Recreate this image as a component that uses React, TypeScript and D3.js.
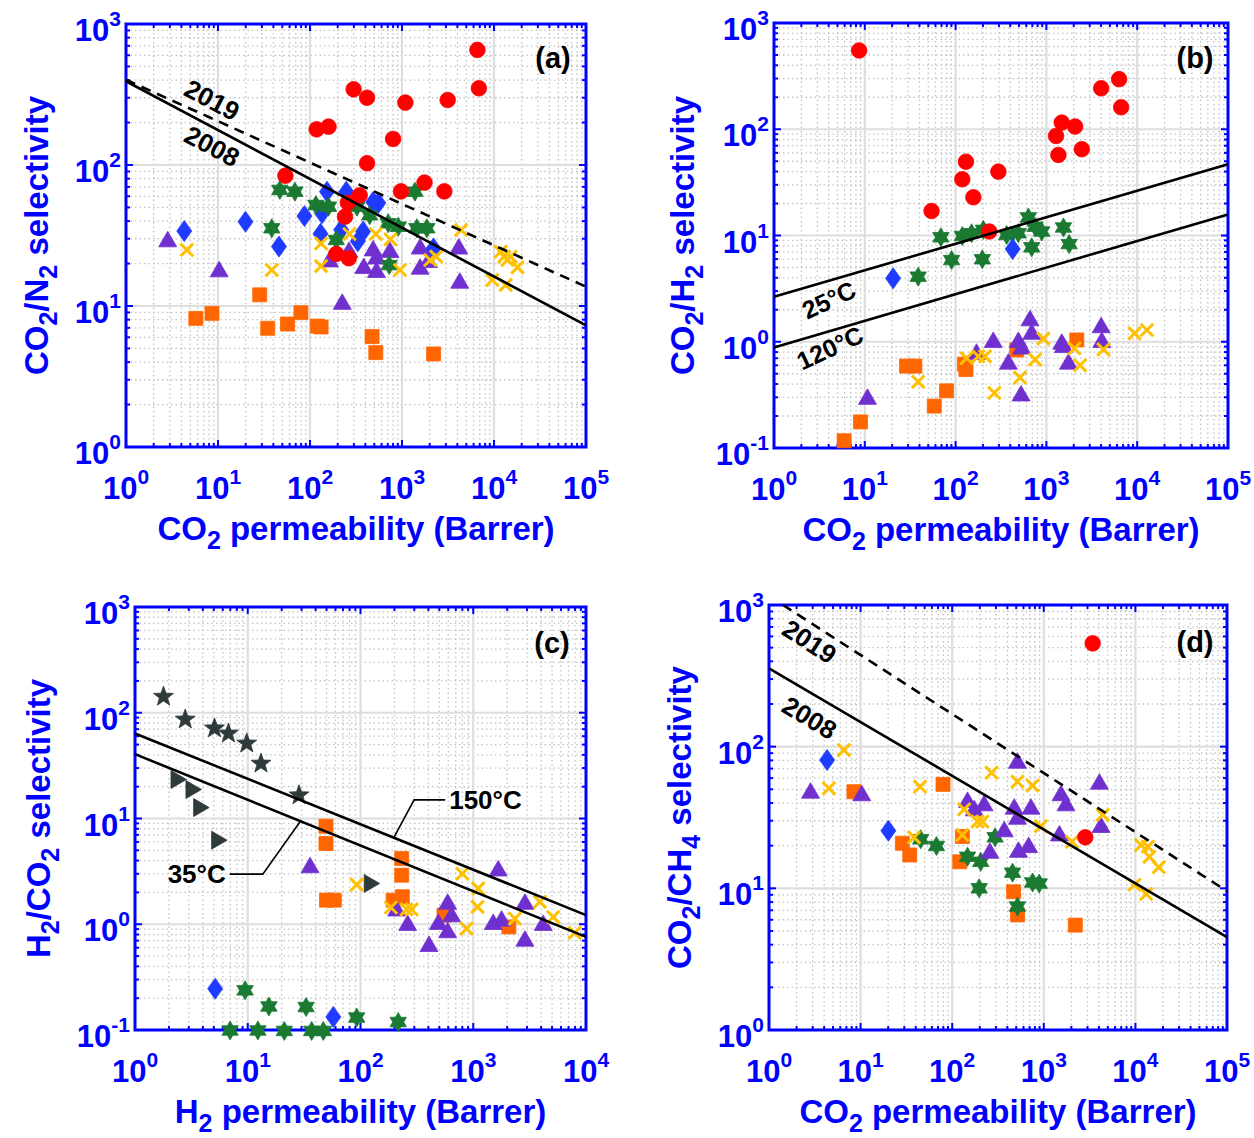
import React from 'react';
import * as d3 from 'd3';

type Pt = [number, number];

// ---------- Panel (a): CO2/N2 ----------
const aCircles: Pt[] = [[6600,655],[6850,350],[298,344],[417,300],[1088,277],[3135,289],[118,179],[159,187],[800,153],[417,103],[54,84],[1757,75],[975,65],[2885,65],[347,61],[258,54],[240,43],[193,23.4],[264,21.8]];
const aDiamonds: Pt[] = [[4.3,34],[19.9,39.6],[46,26.4],[87,43.4],[135,45.4],[153,64.7],[248,64.7],[130,32.5],[218,34.7],[378,33.7],[486,54.7],[553,53.8],[2200,25.6],[331,28.8]];
const aHexagrams: Pt[] = [[47,66.6],[68.5,64.7],[38.4,35.6],[116,52],[159,50.6],[193,29.4],[324,50.6],[708,38.6],[912,36.5],[1450,35.6],[1862,35.6],[1383,64.7],[726,19.5],[445,44]];
const aTriangles: Pt[] = [[2.84,29.7],[10.3,18.2],[224,10.7],[163,21.4],[265,25],[384,19.2],[528,18],[528,22.4],[739,25],[1574,26.4],[1574,19],[4140,26.4],[4245,15.1],[486,25.6],[1941,21.2]];
const aCrosses: Pt[] = [[4.58,25],[38.4,18],[132,27.8],[132,19.2],[269,32.4],[519,32.4],[751,29.7],[951,18],[2026,21.2],[2357,22.4],[4390,34.6],[11830,24.3],[14000,21.2],[15200,22.4],[18000,18.8],[9570,15.3],[13400,14.1],[12900,22.4]];
const aSquares: Pt[] = [[5.74,8.17],[8.6,8.87],[28.4,12],[34.7,6.95],[56.9,7.45],[79.7,8.97],[120,7.2],[132,7.1],[473,6.07],[519,4.67],[2204,4.57]];
const aBound2008: Pt[] = [[1,392.6],[1e5,7.29]];
const aBound2019: Pt[] = [[1,402],[1e5,13.7]];

// ---------- Panel (b): CO2/H2 ----------
const bCircles: Pt[] = [[8.66,551],[4010,243],[6320,296],[6660,161],[1476,115.5],[2070,106],[1278,86.5],[1355,57.3],[2454,64.9],[130,49.5],[118.5,33.8],[157,22.9],[296,39.9],[54.3,17],[235,10.9]];
const bHexagrams: Pt[] = [[68.9,9.62],[118.5,9.88],[150,10.5],[202,11.3],[90.4,5.87],[197,5.97],[38.7,4.1],[365,10.1],[491,10.5],[633,14.8],[750,12.1],[889,10.9],[1541,11.9],[1780,8.3],[689,7.74]];
const bDiamonds: Pt[] = [[20.5,3.95],[425,7.47]];
const bTriangles: Pt[] = [[10.7,0.303],[660,1.66],[689,1.24],[4010,1.43],[4075,1.04],[260,1.04],[491,1.04],[535,0.9],[381,0.65],[170,0.805],[1476,1.0],[1541,0.93],[1750,0.65],[526,0.326]];
const bCrosses: Pt[] = [[38.7,0.42],[132,0.7],[178,0.73],[211,0.73],[267,0.33],[512,0.46],[750,0.68],[926,1.07],[2036,0.865],[2351,0.6],[4253,0.847],[9354,1.2],[12800,1.29]];
const bSquares: Pt[] = [[5.92,0.117],[8.96,0.176],[28.8,0.59],[35.6,0.59],[58.2,0.248],[79.5,0.345],[125,0.616],[130,0.548],[471,0.836],[2161,1.04]];
const bLine25: Pt[] = [[1,2.65],[1e5,46.8]];
const bLine120: Pt[] = [[1,0.885],[1e5,15.8]];

// ---------- Panel (c): H2/CO2 ----------
const cPentagrams: Pt[] = [[1.79,142],[2.79,86.5],[5.07,71.2],[6.74,63.7],[9.8,51.3],[13.1,33.1],[28.5,16.6]];
const cRightTriangles: Pt[] = [[2.43,23.4],[3.3,18.8],[3.86,12.7],[5.57,6.24],[125.6,2.43]];
const cSquares: Pt[] = [[49.4,8.45],[49.4,5.8],[50,1.69],[58.6,1.69],[232,4.18],[232,2.91],[235,1.82],[195,1.69],[550,1.22],[2070,0.944]];
const cTriangles: Pt[] = [[35.7,3.61],[209,1.41],[262,1.03],[405,0.65],[490,1.05],[593,1.63],[643,1.24],[593,0.877],[1666,3.37],[1504,1.05],[1782,1.13],[2873,1.63],[2873,0.73],[4174,1.03]];
const cCrosses: Pt[] = [[92.5,2.37],[186,1.44],[256,1.38],[284,1.38],[800,3.01],[1107,2.18],[1092,1.46],[873,0.91],[2340,1.13],[3900,1.63],[5120,1.17],[7950,0.83]];
const cDiamonds: Pt[] = [[5.14,0.246],[57.4,0.133]];
const cHexagrams: Pt[] = [[9.47,0.237],[15.4,0.167],[32.9,0.165],[92.5,0.131],[216,0.119],[6.97,0.099],[12.3,0.099],[21.1,0.098],[36.9,0.098],[46.8,0.098]];
const cLine150: Pt[] = [[1,63.7],[1e4,1.22]];
const cLine35: Pt[] = [[1,40.6],[1e4,0.759]];

// ---------- Panel (d): CO2/CH4 ----------
const dCircles: Pt[] = [[3415,536],[2838,22.9]];
const dDiamonds: Pt[] = [[4.31,80.5],[20.1,25.5]];
const dTriangles: Pt[] = [[2.84,48.9],[10.3,46.9],[147,42.1],[174,36.7],[223,39.8],[370,26.1],[258,18.4],[516,79.6],[475,37.7],[516,32],[723,37.7],[529,18.7],[683,20.2],[1542,46.9],[1747,39.8],[1480,24.4],[4046,56.6],[4217,28]];
const dCrosses: Pt[] = [[6.58,94.7],[4.51,50.8],[44.6,52.2],[38.3,22.9],[135,36.1],[129,23.8],[189,29.6],[214,29.6],[269,65.5],[516,56.6],[754,53.1],[930,27.5],[2032,21.3],[4397,33],[11530,20.2],[13670,19.7],[14230,16.7],[18000,14.1],[9770,10.6],[13100,9.12]];
const dSquares: Pt[] = [[8.46,48.1],[79.4,54.2],[28.6,20.8],[34.4,17.2],[129,23.2],[121,15.4],[468,9.46],[516,6.49],[2208,5.5]];
const dHexagrams: Pt[] = [[45.3,22.2],[67.3,19.9],[147,16.7],[205,15.4],[197,10],[294,22.9],[456,12.9],[516,7.43],[754,11],[891,10.8]];
const dBound2008: Pt[] = [[1,357],[1e5,4.53]];
const dBound2019: Pt[] = [[1.42,1000],[1e5,9.55]];

// ---------- styling ----------
const FONT = "'Liberation Sans', Arial, Helvetica, sans-serif";
const BLUE = '#0000FF';
const COL = {
  red: '#FF0000', blue: '#1F3BFF', green: '#1A7A32', purple: '#7030D0',
  gold: '#FFC000', orange: '#FF6600', dark: '#2F3A3A',
};

function polygon(pts: number[][]) {
  return 'M' + pts.map(p => p[0].toFixed(2) + ',' + p[1].toFixed(2)).join('L') + 'Z';
}
function starPath(n: number, R: number, r: number) {
  const pts: number[][] = [];
  for (let i = 0; i < 2 * n; i++) {
    const a = -Math.PI / 2 + (i * Math.PI) / n;
    const rr = i % 2 === 0 ? R : r;
    pts.push([rr * Math.cos(a), rr * Math.sin(a)]);
  }
  return polygon(pts);
}
const SHAPES: Record<string, string> = {
  circle: d3.symbol(d3.symbolCircle, Math.PI * 7.8 * 7.8)() as string,
  square: polygon([[-7, -7], [7, -7], [7, 7], [-7, 7]]),
  diamond: polygon([[0, -10.5], [7.5, 0], [0, 10.5], [-7.5, 0]]),
  triangle: polygon([[0, -8], [9, 7.5], [-9, 7.5]]),
  rtriangle: polygon([[8, 0], [-7.5, -9], [-7.5, 9]]),
  hexagram: starPath(6, 9.5, 9.5 / Math.sqrt(3)),
  pentagram: starPath(5, 10.5, 4.3),
  cross: 'M-6.3,-6.3L6.3,6.3M-6.3,6.3L6.3,-6.3',
};

type Series = { pts: Pt[]; shape: string; color: string };
type Label = { text: string; at: Pt; rot: number; size: number };
type Panel = {
  x0: number; x1: number; y0: number; y1: number;
  xd: [number, number]; yd: [number, number];
  series: Series[];
  solid: Pt[][]; dashed: Pt[][];
  labels: Label[];
  leaders: { pts: Pt[]; text: string; anchor: string }[];
  tag: string; tagDx: number; tagDy: number;
  xTitle: [string, string, string]; yTitle: string[];
  yTitleX: number;
};

const panels: Panel[] = [
  {
    x0: 126, x1: 586, y0: 447, y1: 24, xd: [1, 1e5], yd: [1, 1e3],
    series: [
      { pts: aSquares, shape: 'square', color: COL.orange },
      { pts: aTriangles, shape: 'triangle', color: COL.purple },
      { pts: aDiamonds, shape: 'diamond', color: COL.blue },
      { pts: aHexagrams, shape: 'hexagram', color: COL.green },
      { pts: aCrosses, shape: 'cross', color: COL.gold },
      { pts: aCircles, shape: 'circle', color: COL.red },
    ],
    solid: [aBound2008], dashed: [aBound2019],
    labels: [
      { text: '2019', at: [8.6, 289], rot: 28, size: 26 },
      { text: '2008', at: [8.6, 136], rot: 28, size: 26 },
    ],
    leaders: [],
    tag: '(a)', tagDx: -33, tagDy: 44,
    xTitle: ['CO', '2', ' permeability (Barrer)'], yTitle: ['CO', '2', '/N', '2', ' selectivity'], yTitleX: 48,
  },
  {
    x0: 774, x1: 1228, y0: 448, y1: 23, xd: [1, 1e5], yd: [0.1, 1e3],
    series: [
      { pts: bSquares, shape: 'square', color: COL.orange },
      { pts: bTriangles, shape: 'triangle', color: COL.purple },
      { pts: bCrosses, shape: 'cross', color: COL.gold },
      { pts: bHexagrams, shape: 'hexagram', color: COL.green },
      { pts: bDiamonds, shape: 'diamond', color: COL.blue },
      { pts: bCircles, shape: 'circle', color: COL.red },
    ],
    solid: [bLine25, bLine120], dashed: [],
    labels: [
      { text: '25°C', at: [4.03, 2.47], rot: -25, size: 25 },
      { text: '120°C', at: [4.14, 0.873], rot: -25, size: 25 },
    ],
    leaders: [],
    tag: '(b)', tagDx: -33, tagDy: 45,
    xTitle: ['CO', '2', ' permeability (Barrer)'], yTitle: ['CO', '2', '/H', '2', ' selectivity'], yTitleX: 694,
  },
  {
    x0: 135, x1: 586, y0: 1030, y1: 607, xd: [1, 1e4], yd: [0.1, 1e3],
    series: [
      { pts: cPentagrams, shape: 'pentagram', color: COL.dark },
      { pts: cRightTriangles, shape: 'rtriangle', color: COL.dark },
      { pts: cSquares, shape: 'square', color: COL.orange },
      { pts: cTriangles, shape: 'triangle', color: COL.purple },
      { pts: cCrosses, shape: 'cross', color: COL.gold },
      { pts: cDiamonds, shape: 'diamond', color: COL.blue },
      { pts: cHexagrams, shape: 'hexagram', color: COL.green },
    ],
    solid: [cLine150, cLine35], dashed: [],
    labels: [],
    leaders: [
      { pts: [[198.6, 6.68], [299, 15.0], [564, 15.0]], text: '150°C', anchor: 'start' },
      { pts: [[29, 9.27], [13.6, 2.98], [6.92, 2.98]], text: '35°C', anchor: 'end' },
    ],
    tag: '(c)', tagDx: -34, tagDy: 46,
    xTitle: ['H', '2', ' permeability (Barrer)'], yTitle: ['H', '2', '/CO', '2', ' selectivity'], yTitleX: 50,
  },
  {
    x0: 769, x1: 1227, y0: 1030, y1: 605, xd: [1, 1e5], yd: [1, 1e3],
    series: [
      { pts: dSquares, shape: 'square', color: COL.orange },
      { pts: dHexagrams, shape: 'hexagram', color: COL.green },
      { pts: dTriangles, shape: 'triangle', color: COL.purple },
      { pts: dCrosses, shape: 'cross', color: COL.gold },
      { pts: dDiamonds, shape: 'diamond', color: COL.blue },
      { pts: dCircles, shape: 'circle', color: COL.red },
    ],
    solid: [dBound2008], dashed: [dBound2019],
    labels: [
      { text: '2019', at: [2.77, 552], rot: 33, size: 26 },
      { text: '2008', at: [2.77, 160], rot: 31, size: 26 },
    ],
    leaders: [],
    tag: '(d)', tagDx: -32, tagDy: 47,
    xTitle: ['CO', '2', ' permeability (Barrer)'], yTitle: ['CO', '2', '/CH', '4', ' selectivity'], yTitleX: 691,
  },
];

function decades(d: [number, number]) {
  const lo = Math.round(Math.log10(d[0])), hi = Math.round(Math.log10(d[1]));
  const major: number[] = [], minor: number[] = [];
  for (let e = lo; e <= hi; e++) {
    major.push(e);
    if (e < hi) for (let k = 2; k <= 9; k++) minor.push(k * Math.pow(10, e));
  }
  return { major, minor };
}

const TICK_FS = 31, SUP_FS = 21, TITLE_FS = 33, SUB_FS = 25;

function PanelView({ p }: { p: Panel }) {
  const xs = d3.scaleLog().domain(p.xd).range([p.x0, p.x1]);
  const ys = d3.scaleLog().domain(p.yd).range([p.y0, p.y1]);
  const xt = decades(p.xd), yt = decades(p.yd);
  const line = d3.line<Pt>().x(d => xs(d[0])).y(d => ys(d[1]));
  const top = p.y1, bot = p.y0, left = p.x0, right = p.x1;
  const cx = (left + right) / 2, cy = (top + bot) / 2;
  return (
    <g>
      <g stroke="#c4c4c4" strokeWidth={1.3} strokeDasharray="1.5,3">
        {xt.minor.map((v, i) => <line key={'xm' + i} x1={xs(v)} x2={xs(v)} y1={top} y2={bot} />)}
        {yt.minor.map((v, i) => <line key={'ym' + i} y1={ys(v)} y2={ys(v)} x1={left} x2={right} />)}
      </g>
      <g stroke="#dedede" strokeWidth={2.2}>
        {xt.major.map((e, i) => <line key={'xM' + i} x1={xs(10 ** e)} x2={xs(10 ** e)} y1={top} y2={bot} />)}
        {yt.major.map((e, i) => <line key={'yM' + i} y1={ys(10 ** e)} y2={ys(10 ** e)} x1={left} x2={right} />)}
      </g>
      <g stroke={BLUE} strokeWidth={2}>
        {xt.minor.map((v, i) => (
          <g key={'xtm' + i}>
            <line x1={xs(v)} x2={xs(v)} y1={bot} y2={bot - 4} />
            <line x1={xs(v)} x2={xs(v)} y1={top} y2={top + 4} />
          </g>
        ))}
        {yt.minor.map((v, i) => (
          <g key={'ytm' + i}>
            <line y1={ys(v)} y2={ys(v)} x1={left} x2={left + 4} />
            <line y1={ys(v)} y2={ys(v)} x1={right} x2={right - 4} />
          </g>
        ))}
        {xt.major.map((e, i) => (
          <g key={'xtM' + i}>
            <line x1={xs(10 ** e)} x2={xs(10 ** e)} y1={bot} y2={bot - 7} />
            <line x1={xs(10 ** e)} x2={xs(10 ** e)} y1={top} y2={top + 7} />
          </g>
        ))}
        {yt.major.map((e, i) => (
          <g key={'ytM' + i}>
            <line y1={ys(10 ** e)} y2={ys(10 ** e)} x1={left} x2={left + 7} />
            <line y1={ys(10 ** e)} y2={ys(10 ** e)} x1={right} x2={right - 7} />
          </g>
        ))}
      </g>
      <rect x={left} y={top} width={right - left} height={bot - top} fill="none" stroke={BLUE} strokeWidth={3} />
      {p.series.map((s, si) => (
        <g key={'s' + si}>
          {s.pts.map((d, i) =>
            s.shape === 'cross' ? (
              <path key={i} d={SHAPES.cross} transform={`translate(${xs(d[0])},${ys(d[1])})`} stroke={s.color} strokeWidth={3} fill="none" />
            ) : (
              <path key={i} d={SHAPES[s.shape]} transform={`translate(${xs(d[0])},${ys(d[1])})`} fill={s.color} stroke={s.color} strokeWidth={0.8} />
            )
          )}
        </g>
      ))}
      {p.solid.map((l, i) => <path key={'sl' + i} d={line(l) as string} stroke="#000" strokeWidth={2.6} fill="none" />)}
      {p.dashed.map((l, i) => <path key={'dl' + i} d={line(l) as string} stroke="#000" strokeWidth={2.6} fill="none" strokeDasharray="10,7" />)}
      {p.labels.map((l, i) => (
        <text key={'lb' + i} transform={`translate(${xs(l.at[0])},${ys(l.at[1])}) rotate(${l.rot})`} textAnchor="middle" dy="0.35em"
          fontFamily={FONT} fontWeight="bold" fontSize={l.size} fill="#000">{l.text}</text>
      ))}
      {p.leaders.map((l, i) => {
        const last = l.pts[l.pts.length - 1];
        const tx = xs(last[0]) + (l.anchor === 'start' ? 4 : -4);
        return (
          <g key={'ld' + i}>
            <path d={line(l.pts) as string} stroke="#000" strokeWidth={1.6} fill="none" />
            <text x={tx} y={ys(last[1])} dy="0.36em" textAnchor={l.anchor} fontFamily={FONT} fontWeight="bold" fontSize={26} fill="#000">{l.text}</text>
          </g>
        );
      })}
      <text x={right + p.tagDx} y={top + p.tagDy} textAnchor="middle" fontFamily={FONT} fontWeight="bold" fontSize={29} fill="#000">{p.tag}</text>
      <g fontFamily={FONT} fontWeight="bold" fill={BLUE}>
        {xt.major.map((e, i) => (
          <text key={'xl' + i} x={xs(10 ** e)} y={bot + 52} textAnchor="middle" fontSize={TICK_FS}>
            10<tspan fontSize={SUP_FS} dy={-15}>{String(e)}</tspan>
          </text>
        ))}
        {yt.major.map((e, i) => (
          <text key={'yl' + i} x={left - 5} y={ys(10 ** e) + 17} textAnchor="end" fontSize={TICK_FS}>
            10<tspan fontSize={SUP_FS} dy={-15}>{String(e)}</tspan>
          </text>
        ))}
      </g>
      <text x={cx} y={bot + 93} textAnchor="middle" fontFamily={FONT} fontWeight="bold" fontSize={TITLE_FS} fill={BLUE}>
        {p.xTitle[0]}<tspan fontSize={SUB_FS} dy={9}>{p.xTitle[1]}</tspan><tspan dy={-9}>{p.xTitle[2]}</tspan>
      </text>
      <text transform={`translate(${p.yTitleX},${cy}) rotate(-90)`} textAnchor="middle" fontFamily={FONT} fontWeight="bold" fontSize={TITLE_FS} fill={BLUE}>
        {p.yTitle[0]}<tspan fontSize={SUB_FS} dy={9}>{p.yTitle[1]}</tspan><tspan dy={-9}>{p.yTitle[2]}</tspan><tspan fontSize={SUB_FS} dy={9}>{p.yTitle[3]}</tspan><tspan dy={-9}>{p.yTitle[4]}</tspan>
      </text>
    </g>
  );
}

export default function App() {
  return (
    <svg width={1254} height={1138} viewBox="0 0 1254 1138" style={{ position: 'absolute', left: 0, top: 0, background: '#fff' }}>
      <rect x={0} y={0} width={1254} height={1138} fill="#fff" />
      {panels.map((p, i) => <PanelView key={i} p={p} />)}
    </svg>
  );
}
